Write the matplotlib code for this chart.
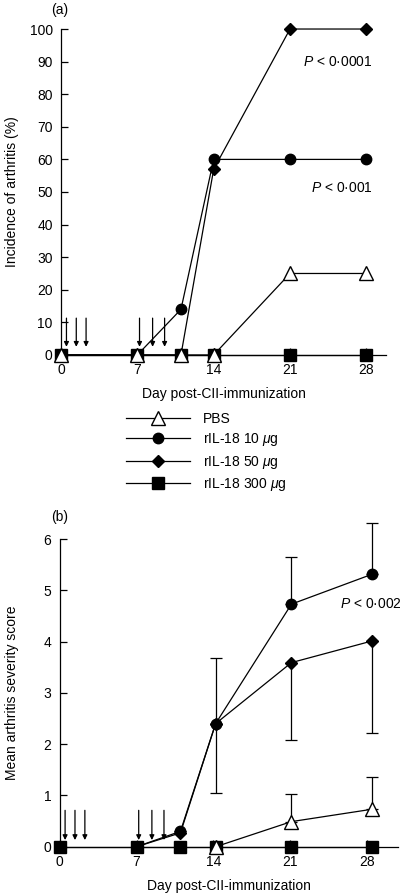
import matplotlib
matplotlib.use('Agg')
import matplotlib.pyplot as plt
from matplotlib.lines import Line2D

plt.rcParams['font.family'] = ['Liberation Sans', 'DejaVu Sans']
plt.rcParams['mathtext.fontset'] = 'custom'
plt.rcParams['mathtext.rm'] = 'Liberation Sans'
plt.rcParams['mathtext.it'] = 'Liberation Sans:italic'
plt.rcParams['font.size'] = 10

# ---- data ----
GROUPS = ['PBS', 'rIL-18 10 $\\mu$g', 'rIL-18 50 $\\mu$g', 'rIL-18 300 $\\mu$g']

# (a) incidence of arthritis (%)
days_a = [0, 7, 11, 14, 21, 28]
inc_pbs = [0, 0, 0, 0, 25, 25]
inc_10 = [0, 0, 14, 60, 60, 60]
inc_50 = [0, 0, 0, 57, 100, 100]
inc_300 = [0, 0, 0, 0, 0, 0]

# (b) mean arthritis severity score
days_b = [0, 7, 11, 14.2, 21.1, 28.4]
sev_pbs_days = [14.2, 21.1, 28.4]
sev_pbs = [0, 0.49, 0.73]
sev_pbs_err = [0, 0.53, 0.63]
sev_10_days = [7, 11, 14.2, 21.1, 28.4]
sev_10 = [0, 0.3, 2.4, 4.73, 5.31]
sev_10_err = [0, 0, 1.28, 0.92, 1.0]
sev_50_days = [7, 11, 14.2, 21.1, 28.4]
sev_50 = [0, 0.27, 2.4, 3.59, 4.01]
sev_50_err = [0, 0, 1.36, 1.5, 1.8]
sev_300 = [0, 0, 0, 0, 0, 0]

# injection days (arrows)
arrow_days = [0.5, 1.4, 2.3, 7.2, 8.4, 9.5]

MARKERS = {
    'pbs': dict(marker='^', markersize=10, markerfacecolor='white', markeredgecolor='k'),
    '10': dict(marker='o', markersize=7.5, markerfacecolor='k', markeredgecolor='k'),
    '50': dict(marker='D', markersize=6.5, markerfacecolor='k', markeredgecolor='k'),
    '300': dict(marker='s', markersize=8.5, markerfacecolor='k', markeredgecolor='k'),
}
LINE = dict(color='k', lw=0.9, clip_on=False)


def style_axis(ax, ylim, yticks, xmax):
    ax.set_xlim(0, xmax)
    ax.set_ylim(*ylim)
    ax.set_yticks(yticks)
    ax.set_xticks([0, 7, 14, 21, 28])
    for s in ['top', 'right']:
        ax.spines[s].set_visible(False)
    for s in ['left', 'bottom']:
        ax.spines[s].set_linewidth(0.9)
    ax.tick_params(direction='in', length=5, width=0.9, pad=6, labelsize=10)


def draw_arrows(ax, top, tip):
    for d in arrow_days:
        ax.annotate('', xy=(d, tip), xytext=(d, top),
                    arrowprops=dict(arrowstyle='-|>', color='k', lw=0.9,
                                    mutation_scale=7, shrinkA=0, shrinkB=0))


def error_up_or_down(ax, x, y, err, up=True):
    zeros = [0] * len(y)
    yerr = [zeros, err] if up else [err, zeros]
    cont = ax.errorbar(x, y, yerr=yerr, fmt='none', ecolor='k', elinewidth=0.9,
                       capsize=4, capthick=0.9, zorder=2)
    for art in cont.get_children():
        art.set_clip_on(False)


fig = plt.figure(figsize=(4, 8.93), dpi=100)

# ---- panel (a) ----
ax = fig.add_axes([0.1525, 0.6025, 0.8125, 0.365])
style_axis(ax, (0, 100), range(0, 101, 10), 29.8)
ax.plot(days_a, inc_300, **LINE, **MARKERS['300'], zorder=3)
ax.plot(days_a, inc_50, **LINE, **MARKERS['50'], zorder=4)
ax.plot(days_a, inc_10, **LINE, **MARKERS['10'], zorder=5)
ax.plot(days_a, inc_pbs, **LINE, **MARKERS['pbs'], zorder=6)
draw_arrows(ax, 11.3, 2.5)
ax.text(28.6, 90, '$P$ < 0·0001', ha='right', va='center', fontsize=10)
ax.text(28.6, 51.3, '$P$ < 0·001', ha='right', va='center', fontsize=10)
ax.set_xlabel('Day post-CII-immunization', fontsize=10, labelpad=7)
fig.text(12 / 400, 1 - 192 / 893, 'Incidence of arthritis (%)', rotation=90,
         ha='center', va='center', fontsize=10)
fig.text(60 / 400, 1 - 10 / 893, '(a)', ha='center', va='center', fontsize=10)

# legend
handles = [Line2D([], [], color='k', lw=0.9, **MARKERS[k]) for k in ['pbs', '10', '50', '300']]
fig.legend(handles, GROUPS, loc='upper left', bbox_to_anchor=(126 / 400, 1 - 412 / 893),
           frameon=False, handlelength=4.6, handletextpad=0.95, labelspacing=0.38,
           borderpad=0, borderaxespad=0, fontsize=10)

# ---- panel (b) ----
ax = fig.add_axes([0.149, 0.0518, 0.846, 0.3446])
style_axis(ax, (0, 6), range(0, 7), 30.8)
error_up_or_down(ax, sev_10_days, sev_10, sev_10_err, up=True)
error_up_or_down(ax, sev_50_days, sev_50, sev_50_err, up=False)
error_up_or_down(ax, sev_pbs_days, sev_pbs, sev_pbs_err, up=True)
ax.plot(sev_10_days, sev_10, **LINE, **MARKERS['10'], zorder=3)
ax.plot(sev_50_days, sev_50, **LINE, **MARKERS['50'], zorder=4)
ax.plot(days_b, sev_300, **LINE, **MARKERS['300'], zorder=5)
ax.plot(sev_pbs_days, sev_pbs, **LINE, **MARKERS['pbs'], zorder=6)
draw_arrows(ax, 0.71, 0.13)
ax.text(25.5, 4.73, '$P$ < 0·002', ha='left', va='center', fontsize=10)
ax.set_xlabel('Day post-CII-immunization', fontsize=10, labelpad=7)
fig.text(12 / 400, 1 - 693 / 893, 'Mean arthritis severity score', rotation=90,
         ha='center', va='center', fontsize=10)
fig.text(60 / 400, 1 - 517 / 893, '(b)', ha='center', va='center', fontsize=10)

fig.savefig('out.png', dpi=100)
